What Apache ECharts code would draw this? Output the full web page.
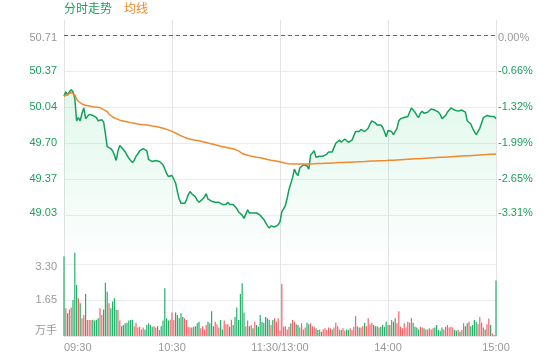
<!DOCTYPE html>
<html><head><meta charset="utf-8">
<script src="https://cdn.jsdelivr.net/npm/echarts@6/dist/echarts.min.js"></script>
<style>html,body{margin:0;padding:0;background:#fff}#c{width:560px;height:360px}</style>
</head><body><div id="c"></div>
<script>
// ---- data ----
const prevClose = 50.71;          // previous close (0.00% line)
const pctStep = 0.662;            // percent step between price grid lines
const pctMin = -3.972;            // percent at bottom of price panel
const pctMax = 0.276;             // percent at top of price panel
const volStep = 1.65;             // volume tick step (万手)
const volMax = 3.896;             // volume at top of volume panel
const tickLabels = ['09:30', '10:30', '11:30/13:00', '14:00', '15:00'];
const legendNames = ['分时走势', '均线'];
const volUnit = '万手';

const prices = [
  50.14, 50.18, 50.15, 50.18, 50.20, 50.18, 50.12, 49.91, 49.94, 49.91,
  49.98, 50.03, 49.93, 49.94, 49.97, 49.98, 49.96, 49.95, 49.94, 49.91,
  49.92, 49.92, 49.90, 49.79, 49.67, 49.67, 49.65, 49.63, 49.59, 49.54,
  49.63, 49.68, 49.66, 49.64, 49.62, 49.59, 49.56, 49.55, 49.52, 49.54,
  49.58, 49.60, 49.63, 49.64, 49.65, 49.64, 49.63, 49.55, 49.54, 49.53,
  49.53, 49.54, 49.53, 49.53, 49.52, 49.50, 49.46, 49.42, 49.39, 49.39,
  49.40, 49.40, 49.33, 49.25, 49.18, 49.14, 49.13, 49.14, 49.17, 49.22,
  49.25, 49.23, 49.24, 49.20, 49.17, 49.15, 49.16, 49.18, 49.20, 49.23,
  49.18, 49.17, 49.16, 49.15, 49.15, 49.15, 49.15, 49.14, 49.13, 49.13,
  49.13, 49.15, 49.13, 49.14, 49.13, 49.11, 49.09, 49.06, 49.05, 49.03,
  49.00, 49.04, 49.08, 49.05, 49.06, 49.05, 49.06, 49.05, 49.04, 49.03,
  49.02, 48.99, 48.96, 48.93, 48.91, 48.93, 48.92, 48.92, 48.92, 48.94,
  48.97, 49.06, 49.06, 49.12, 49.19, 49.27, 49.26, 49.38, 49.46, 49.42,
  49.40, 49.47, 49.48, 49.50, 49.50, 49.49, 49.46, 49.59, 49.61, 49.63,
  49.57, 49.56, 49.58, 49.57, 49.58, 49.59, 49.60, 49.62, 49.63, 49.62,
  49.66, 49.70, 49.70, 49.73, 49.71, 49.72, 49.74, 49.73, 49.71, 49.71,
  49.73, 49.74, 49.81, 49.82, 49.81, 49.83, 49.83, 49.81, 49.82, 49.84,
  49.88, 49.91, 49.90, 49.89, 49.87, 49.88, 49.87, 49.85, 49.81, 49.76,
  49.82, 49.81, 49.81, 49.78, 49.77, 49.84, 49.91, 49.93, 49.94, 49.94,
  49.94, 49.95, 49.99, 50.03, 50.02, 49.99, 49.96, 49.94, 49.98, 50.00,
  49.98, 49.98, 49.99, 50.00, 50.02, 50.02, 50.01, 50.00, 49.99, 49.97,
  49.93, 49.93, 49.96, 49.99, 50.01, 50.03, 50.03, 50.01, 50.00, 50.00,
  49.99, 50.01, 50.02, 49.99, 49.91, 49.91, 49.88, 49.84, 49.81, 49.78,
  49.79, 49.84, 49.89, 49.94, 49.93, 49.96, 49.96, 49.95, 49.95, 49.95,
  49.93
];

const avgPrices = [
  50.138, 50.146, 50.155, 50.164, 50.174, 50.174, 50.150, 50.113, 50.090, 50.079,
  50.067, 50.059, 50.054, 50.051, 50.047, 50.043, 50.040, 50.038, 50.037, 50.035,
  50.033, 50.025, 50.015, 50.006, 49.996, 49.973, 49.955, 49.945, 49.938, 49.930,
  49.922, 49.916, 49.912, 49.908, 49.904, 49.901, 49.897, 49.893, 49.889, 49.887,
  49.884, 49.881, 49.878, 49.876, 49.875, 49.873, 49.871, 49.868, 49.865, 49.862,
  49.860, 49.857, 49.854, 49.850, 49.847, 49.841, 49.835, 49.830, 49.824, 49.818,
  49.811, 49.804, 49.796, 49.787, 49.777, 49.770, 49.763, 49.755, 49.748, 49.743,
  49.739, 49.736, 49.732, 49.729, 49.726, 49.723, 49.719, 49.715, 49.711, 49.708,
  49.703, 49.699, 49.695, 49.692, 49.687, 49.682, 49.678, 49.673, 49.669, 49.666,
  49.662, 49.658, 49.654, 49.651, 49.647, 49.644, 49.640, 49.630, 49.619, 49.605,
  49.598, 49.593, 49.589, 49.585, 49.582, 49.578, 49.574, 49.571, 49.568, 49.565,
  49.561, 49.558, 49.554, 49.550, 49.546, 49.543, 49.540, 49.537, 49.534, 49.531,
  49.528, 49.523, 49.518, 49.515, 49.512, 49.510, 49.509, 49.508, 49.507, 49.506,
  49.506, 49.506, 49.506, 49.506, 49.506, 49.506, 49.507, 49.508, 49.508, 49.509,
  49.510, 49.511, 49.511, 49.512, 49.513, 49.514, 49.514, 49.515, 49.516, 49.517,
  49.517, 49.518, 49.519, 49.520, 49.521, 49.521, 49.522, 49.523, 49.524, 49.524,
  49.525, 49.526, 49.527, 49.527, 49.528, 49.529, 49.530, 49.530, 49.531, 49.532,
  49.533, 49.534, 49.534, 49.535, 49.536, 49.537, 49.537, 49.538, 49.539, 49.539,
  49.540, 49.541, 49.542, 49.543, 49.544, 49.545, 49.546, 49.547, 49.548, 49.549,
  49.550, 49.551, 49.552, 49.553, 49.554, 49.555, 49.556, 49.557, 49.558, 49.559,
  49.560, 49.561, 49.562, 49.563, 49.564, 49.565, 49.566, 49.567, 49.568, 49.569,
  49.570, 49.571, 49.572, 49.573, 49.574, 49.575, 49.576, 49.577, 49.578, 49.579,
  49.580, 49.581, 49.582, 49.583, 49.584, 49.585, 49.586, 49.587, 49.588, 49.589,
  49.590, 49.591, 49.592, 49.593, 49.594, 49.595, 49.596, 49.597, 49.598, 49.599,
  49.600
];

const volumes = [
  3.64, 1.27, 1.04, 1.22, 1.31, 1.65, 3.82, 2.34, 1.73, 1.50,
  0.81, 0.96, 1.92, 0.73, 0.73, 0.73, 0.75, 0.71, 0.75, 0.81,
  1.27, 0.96, 1.22, 2.44, 2.03, 1.50, 1.27, 1.58, 1.73, 1.19,
  1.19, 0.71, 0.45, 0.50, 0.58, 0.61, 0.71, 0.73, 0.75, 0.45,
  0.61, 0.39, 0.42, 0.30, 0.39, 0.30, 0.50, 0.58, 0.50, 0.42,
  0.45, 0.39, 0.45, 0.27, 0.45, 0.71, 2.19, 0.81, 0.71, 0.75,
  1.08, 0.73, 1.08, 0.96, 0.81, 1.04, 0.87, 0.81, 0.73, 0.42,
  0.39, 0.39, 0.42, 0.45, 0.58, 0.65, 0.35, 0.45, 0.30, 0.50,
  0.65, 0.58, 1.13, 0.45, 0.65, 0.54, 0.39, 0.73, 0.30, 0.71,
  0.54, 0.54, 0.42, 0.75, 0.50, 0.87, 1.31, 0.73, 1.92, 2.42,
  1.08, 0.45, 0.71, 0.45, 0.50, 0.35, 0.65, 0.50, 0.42, 0.96,
  0.65, 0.61, 0.87, 0.81, 0.75, 0.50, 0.73, 0.81, 0.65, 0.81,
  0.25, 2.38, 0.42, 0.45, 0.30, 0.42, 0.58, 0.73, 0.65, 0.54,
  0.50, 0.39, 0.58, 0.30, 0.39, 0.61, 0.54, 0.58, 0.45, 0.42,
  0.35, 0.27, 0.30, 0.20, 0.30, 0.35, 0.27, 0.39, 0.35, 0.30,
  0.39, 0.61, 0.45, 0.30, 0.27, 0.35, 0.24, 0.30, 0.27, 0.35,
  0.27, 0.42, 0.92, 0.45, 0.39, 0.39, 0.45, 0.61, 0.45, 0.81,
  0.54, 0.61, 0.50, 0.45, 0.45, 0.39, 0.42, 0.50, 0.42, 0.65,
  0.50, 0.50, 0.73, 0.65, 0.81, 0.58, 1.13, 0.42, 0.35, 0.58,
  0.39, 0.65, 0.61, 0.81, 0.61, 0.42, 0.39, 0.30, 0.42, 0.39,
  0.35, 0.30, 0.30, 0.35, 0.30, 0.35, 0.39, 0.50, 0.27, 0.24,
  0.39, 0.30, 0.42, 0.50, 0.39, 0.42, 0.39, 0.27, 0.24, 0.27,
  0.20, 0.27, 0.58, 0.45, 0.58, 0.65, 0.45, 0.50, 0.73, 0.65,
  0.54, 0.87, 0.61, 0.39, 0.30, 0.54, 0.80, 0.50, 0.12, 0.05,
  2.54
];

// minute categories: 09:30-11:30, 13:01-15:00
const times = [];
function pad(n) { return (n < 10 ? '0' : '') + n; }
for (let m = 9 * 60 + 30; m <= 11 * 60 + 30; m++) times.push(pad(Math.floor(m / 60)) + ':' + pad(m % 60));
for (let m = 13 * 60 + 1; m <= 15 * 60; m++) times.push(pad(Math.floor(m / 60)) + ':' + pad(m % 60));

// ---- styling ----
const GREEN = '#1c9f5c';
const LINE_GREEN = '#12a05a';
const ORANGE = '#f08a2c';
const GREY = '#999999';
const BAR_UP = '#f4636a';
const BAR_DOWN = '#25b069';
const FONT = '"Liberation Sans", Arial, "Noto Sans CJK SC", sans-serif';

const chart = echarts.init(document.getElementById('c'), null, { renderer: 'canvas' });

const labelEvery = (i) => i % 60 === 0;
const pctColor = (v) => Math.abs(Number(v)) < 1e-6 ? GREY : GREEN;
// nudge the top label down and the lowest label up, as in the reference
const nudge = (v, text) => {
  const n = Number(v);
  if (Math.abs(n) < 1e-6) return '{t|' + text + '}';
  if (Math.abs(n - (pctMin + pctStep)) < 1e-6) return '{b|' + text + '}';
  return text;
};
const nudgeRich = { t: { padding: [6, 0, 0, 0], fontSize: 11 }, b: { padding: [0, 0, 5, 0], fontSize: 11 } };

chart.setOption({
  animation: false,
  textStyle: { fontFamily: FONT },
  legend: {
    left: 59, top: 3, padding: 0,
    icon: 'none', itemWidth: 0, itemHeight: 14, itemGap: 7,
    selectedMode: false,
    textStyle: { fontSize: 12, fontFamily: FONT },
    data: [
      { name: legendNames[0], textStyle: { color: GREEN } },
      { name: legendNames[1], textStyle: { color: ORANGE } }
    ]
  },
  grid: [
    { left: 64, right: 64, top: 20, height: 231 },
    { left: 64, right: 64, top: 251, height: 85 }
  ],
  xAxis: [
    {
      type: 'category', gridIndex: 0, data: times, boundaryGap: false,
      axisLine: { show: false }, axisTick: { show: false }, axisLabel: { show: false },
      splitLine: { show: true, interval: labelEvery, lineStyle: { color: '#e3e3e3', width: 1 } }
    },
    {
      type: 'category', gridIndex: 1, data: times, boundaryGap: false,
      axisLine: { show: true, lineStyle: { color: '#e6e6e6' } },
      axisTick: { show: false },
      axisLabel: {
        interval: labelEvery, color: GREY, fontSize: 11, margin: 6,
        alignMinLabel: 'left',
        formatter: (v, i) => tickLabels[Math.round(i / 60)]
      },
      splitLine: { show: true, interval: labelEvery, lineStyle: { color: '#e3e3e3', width: 1 } }
    }
  ],
  yAxis: [
    { // price scale used by the series (labels drawn by the percent axes)
      type: 'value', gridIndex: 0, show: false, scale: true,
      min: prevClose * (1 + pctMin / 100), max: prevClose * (1 + pctMax / 100)
    },
    { // left labels: price
      type: 'value', gridIndex: 0, position: 'left',
      min: pctMin, max: pctMax, interval: pctStep,
      axisLine: { show: false }, axisTick: { show: false },
      axisLabel: {
        margin: 7, fontSize: 11, showMinLabel: false, showMaxLabel: false,
        color: pctColor,
        formatter: (v) => nudge(v, (prevClose * (1 + v / 100)).toFixed(2)),
        rich: nudgeRich
      },
      splitLine: { show: true, showMinLine: false, showMaxLine: false, lineStyle: { color: '#ececec' } }
    },
    { // right labels: percent
      type: 'value', gridIndex: 0, position: 'right',
      min: pctMin, max: pctMax, interval: pctStep,
      axisLine: { show: false }, axisTick: { show: false },
      axisLabel: {
        margin: 2, fontSize: 11, showMinLabel: false, showMaxLabel: false,
        color: pctColor,
        formatter: (v) => nudge(v, (Math.abs(v) < 1e-6 ? 0 : v).toFixed(2) + '%'),
        rich: nudgeRich
      },
      splitLine: { show: false }
    },
    { // volume
      type: 'value', gridIndex: 1, min: 0, max: volMax, interval: volStep,
      axisLine: { show: false }, axisTick: { show: false },
      axisLabel: {
        margin: 7, fontSize: 11, color: GREY, showMaxLabel: false,
        verticalAlignMinLabel: 'bottom',
        formatter: (v) => {
          const n = Number(v);
          if (n === 0) return volUnit;
          return n > 3 ? '{t|' + n.toFixed(2) + '}' : n.toFixed(2);
        },
        rich: { t: { padding: [6, 0, 0, 0], fontSize: 11 } }
      },
      splitLine: { show: true, showMinLine: false, showMaxLine: false, lineStyle: { color: '#ececec' } }
    }
  ],
  series: [
    {
      name: legendNames[0], type: 'line', xAxisIndex: 0, yAxisIndex: 0,
      data: prices, showSymbol: false, symbol: 'none',
      lineStyle: { color: LINE_GREEN, width: 1.5 },
      itemStyle: { color: LINE_GREEN },
      areaStyle: {
        origin: 'start',
        color: new echarts.graphic.LinearGradient(0, 0, 0, 1, [
          { offset: 0, color: 'rgba(40,205,120,0.20)' },
          { offset: 1, color: 'rgba(40,205,120,0.02)' }
        ])
      },
      markLine: {
        silent: true, symbol: 'none', label: { show: false },
        lineStyle: { color: '#666', type: [4, 3], width: 1 },
        data: [{ yAxis: prevClose }]
      },
      z: 3
    },
    {
      name: legendNames[1], type: 'line', xAxisIndex: 0, yAxisIndex: 0,
      data: avgPrices, showSymbol: false, symbol: 'none',
      lineStyle: { color: ORANGE, width: 1.5 },
      itemStyle: { color: ORANGE },
      z: 4
    },
    {
      name: 'volume', type: 'bar', xAxisIndex: 1, yAxisIndex: 3,
      data: volumes, barWidth: 1.2,
      itemStyle: {
        color: (p) => {
          const i = p.dataIndex;
          const prev = i === 0 ? prevClose : prices[i - 1];
          return prices[i] >= prev ? BAR_UP : BAR_DOWN;
        }
      }
    }
  ]
});
</script>
</body></html>
